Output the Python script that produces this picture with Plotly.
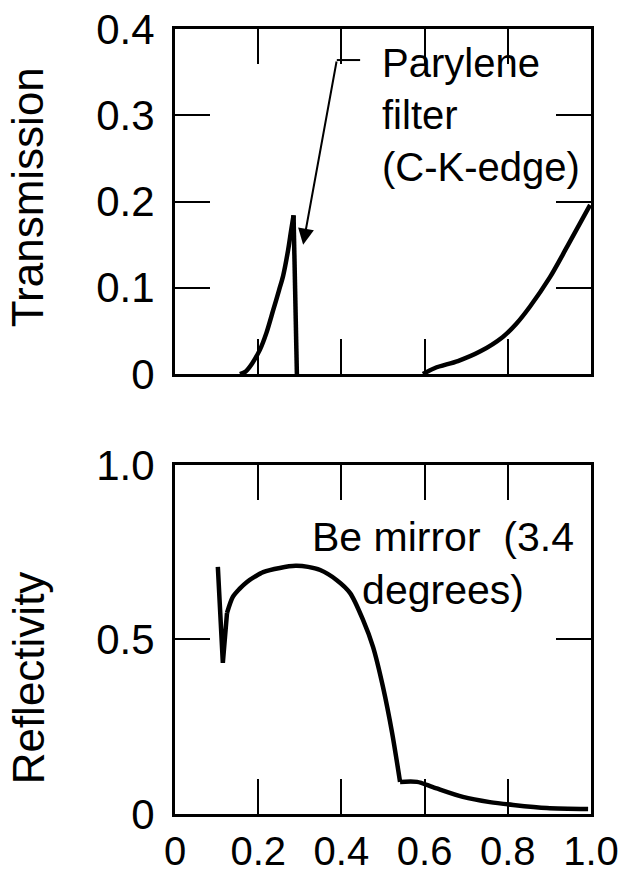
import plotly.graph_objects as go
from plotly.subplots import make_subplots

# Transmission (Parylene filter, C-K edge)
trans_rise_x = [0.156, 0.170, 0.185, 0.204, 0.220, 0.236, 0.250, 0.260, 0.272, 0.279, 0.285]
trans_rise_y = [0.000, 0.003, 0.012, 0.028, 0.048, 0.074, 0.097, 0.114, 0.144, 0.166, 0.184]
trans_drop_x = [0.285, 0.293]
trans_drop_y = [0.184, 0.000]
trans_high_x = [0.596, 0.625, 0.680, 0.733, 0.788, 0.820, 0.853, 0.901, 0.942, 0.998]
trans_high_y = [0.000, 0.007, 0.015, 0.026, 0.043, 0.058, 0.078, 0.112, 0.147, 0.196]

# Reflectivity (Be mirror, 3.4 degrees)
refl_spike_x = [0.103, 0.115, 0.125]
refl_spike_y = [0.708, 0.433, 0.576]
refl_hump_x = [0.125, 0.139, 0.155, 0.173, 0.192, 0.212, 0.252, 0.290, 0.320, 0.349,
               0.389, 0.421, 0.452, 0.476, 0.500, 0.522, 0.541]
refl_hump_y = [0.576, 0.622, 0.645, 0.665, 0.680, 0.693, 0.705, 0.711, 0.708, 0.699,
               0.670, 0.633, 0.556, 0.479, 0.364, 0.232, 0.092]
refl_tail_x = [0.541, 0.582, 0.620, 0.692, 0.757, 0.813, 0.894, 0.993]
refl_tail_y = [0.092, 0.092, 0.077, 0.049, 0.034, 0.026, 0.017, 0.014]

x_tickvals = [0, 0.2, 0.4, 0.6, 0.8, 1.0]
x_ticktext = ["0", "0.2", "0.4", "0.6", "0.8", "1.0"]
t_tickvals = [0, 0.1, 0.2, 0.3, 0.4]
t_ticktext = ["0", "0.1", "0.2", "0.3", "0.4"]
r_tickvals = [0, 0.5, 1.0]
r_ticktext = ["0", "0.5", "1.0"]

FONT = "Liberation Sans, Arial, sans-serif"

fig = make_subplots(rows=2, cols=1, vertical_spacing=0.0)
lin = dict(color="black", width=4.5)
spl = dict(color="black", width=4.5, shape="spline", smoothing=0.8)
fig.add_trace(go.Scatter(x=trans_rise_x, y=trans_rise_y, mode="lines", line=spl), row=1, col=1)
fig.add_trace(go.Scatter(x=trans_drop_x, y=trans_drop_y, mode="lines", line=lin), row=1, col=1)
fig.add_trace(go.Scatter(x=trans_high_x, y=trans_high_y, mode="lines", line=spl), row=1, col=1)
fig.add_trace(go.Scatter(x=refl_spike_x, y=refl_spike_y, mode="lines", line=lin), row=2, col=1)
fig.add_trace(go.Scatter(x=refl_hump_x, y=refl_hump_y, mode="lines", line=spl), row=2, col=1)
fig.add_trace(go.Scatter(x=refl_tail_x, y=refl_tail_y, mode="lines", line=spl), row=2, col=1)

axis_common = dict(showline=True, linecolor="black", linewidth=3, mirror="ticks",
                   ticks="inside", ticklen=35, tickwidth=2, tickcolor="black",
                   showgrid=False, zeroline=False, automargin=False,
                   tickfont=dict(family=FONT, size=42, color="black"))

fig.update_xaxes(range=[0, 1], tickvals=x_tickvals, ticktext=x_ticktext, **axis_common)
fig.update_xaxes(showticklabels=False, row=1, col=1)
fig.update_xaxes(ticklabelstandoff=0, tickfont=dict(family=FONT, size=40, color="black"),
                 row=2, col=1)
fig.update_yaxes(**axis_common)
fig.update_yaxes(range=[0, 0.4], tickvals=t_tickvals, ticktext=t_ticktext,
                 domain=[0.5605, 1.0], ticklabelstandoff=9, row=1, col=1)
fig.update_yaxes(range=[0, 1.0], tickvals=r_tickvals, ticktext=r_ticktext,
                 domain=[0.0, 0.4446], ticklabelstandoff=9, row=2, col=1)

# y-axis titles
fig.add_annotation(x=-0.353, y=0.786, xref="paper", yref="paper", text="Transmission",
                   textangle=-90, showarrow=False, xanchor="center", yanchor="middle",
                   font=dict(family=FONT, size=44, color="black"))
fig.add_annotation(x=-0.353, y=0.173, xref="paper", yref="paper", text="Reflectivity",
                   textangle=-90, showarrow=False, xanchor="center", yanchor="middle",
                   font=dict(family=FONT, size=44, color="black"))

fig.add_annotation(x=0.493, y=0.300, xref="x", yref="y", text="Parylene<br>filter<br>(C-K-edge)",
                   showarrow=False, xanchor="left", yanchor="middle", align="left",
                   font=dict(family=FONT, size=40, color="black"))
fig.add_annotation(x=0.308, y=0.150, xref="x", yref="y", ax=0.389, ay=0.364,
                   axref="x", ayref="y", text="", showarrow=True, arrowhead=2,
                   arrowsize=1.6, arrowwidth=2, arrowcolor="black")
fig.add_shape(type="line", x0=0.389, y0=0.364, x1=0.445, y1=0.364, xref="x", yref="y",
              line=dict(color="black", width=2))
fig.add_annotation(x=0.645, y=0.719, xref="x2", yref="y2",
                   text="Be mirror\u00a0\u00a0(3.4<br>degrees)",
                   showarrow=False, xanchor="center", yanchor="middle", align="center",
                   font=dict(family=FONT, size=41, color="black"))

fig.update_layout(width=622, height=875, margin=dict(l=175, r=31, t=29, b=61),
                  paper_bgcolor="white", plot_bgcolor="white", showlegend=False)
fig.write_html("out.html")
